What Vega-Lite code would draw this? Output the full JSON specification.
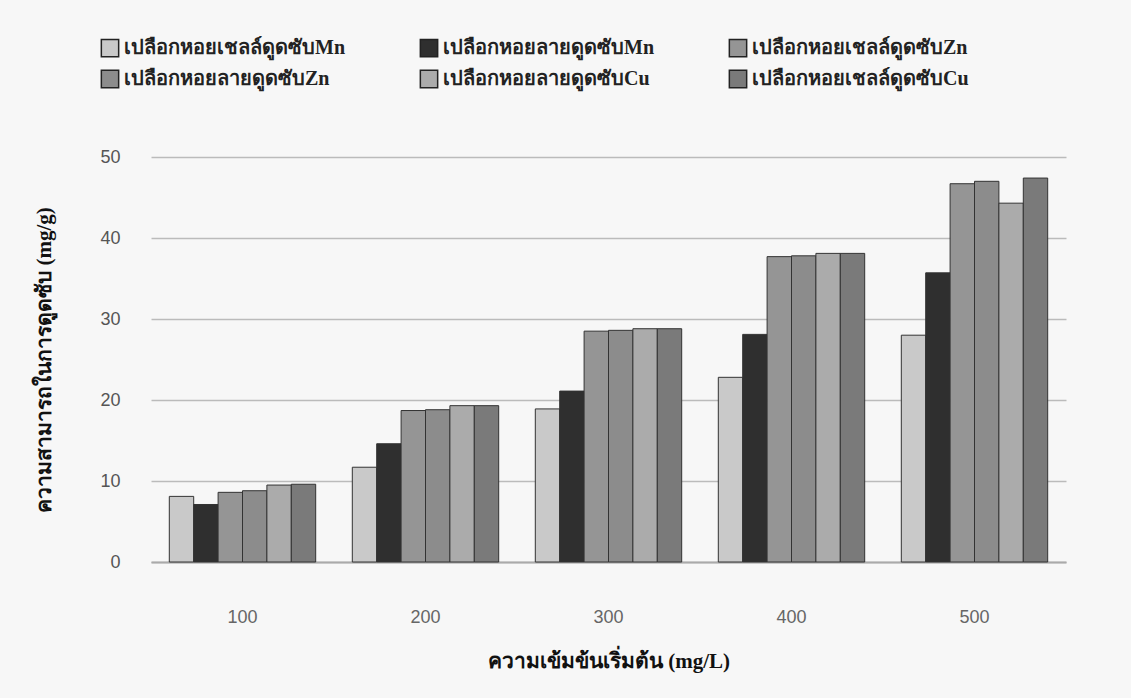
{
  "$schema": "https://vega.github.io/schema/vega-lite/v6.json",
  "autosize": {"type": "none"},
  "width": 915,
  "height": 405,
  "padding": {"left": 151, "top": 157, "right": 65, "bottom": 136},
  "background": "#f7f7f7",
  "config": {
    "view": {"stroke": null},
    "font": "Liberation Serif"
  },
  "data": {
    "values": [
      {"conc": "100", "series": "เปลือกหอยเชลล์ดูดซับMn", "value": 8.1},
      {"conc": "100", "series": "เปลือกหอยลายดูดซับMn", "value": 7.1},
      {"conc": "100", "series": "เปลือกหอยเชลล์ดูดซับZn", "value": 8.6},
      {"conc": "100", "series": "เปลือกหอยลายดูดซับZn", "value": 8.8},
      {"conc": "100", "series": "เปลือกหอยลายดูดซับCu", "value": 9.5},
      {"conc": "100", "series": "เปลือกหอยเชลล์ดูดซับCu", "value": 9.6},
      {"conc": "200", "series": "เปลือกหอยเชลล์ดูดซับMn", "value": 11.7},
      {"conc": "200", "series": "เปลือกหอยลายดูดซับMn", "value": 14.6},
      {"conc": "200", "series": "เปลือกหอยเชลล์ดูดซับZn", "value": 18.7},
      {"conc": "200", "series": "เปลือกหอยลายดูดซับZn", "value": 18.8},
      {"conc": "200", "series": "เปลือกหอยลายดูดซับCu", "value": 19.3},
      {"conc": "200", "series": "เปลือกหอยเชลล์ดูดซับCu", "value": 19.3},
      {"conc": "300", "series": "เปลือกหอยเชลล์ดูดซับMn", "value": 18.9},
      {"conc": "300", "series": "เปลือกหอยลายดูดซับMn", "value": 21.1},
      {"conc": "300", "series": "เปลือกหอยเชลล์ดูดซับZn", "value": 28.5},
      {"conc": "300", "series": "เปลือกหอยลายดูดซับZn", "value": 28.6},
      {"conc": "300", "series": "เปลือกหอยลายดูดซับCu", "value": 28.8},
      {"conc": "300", "series": "เปลือกหอยเชลล์ดูดซับCu", "value": 28.8},
      {"conc": "400", "series": "เปลือกหอยเชลล์ดูดซับMn", "value": 22.8},
      {"conc": "400", "series": "เปลือกหอยลายดูดซับMn", "value": 28.1},
      {"conc": "400", "series": "เปลือกหอยเชลล์ดูดซับZn", "value": 37.7},
      {"conc": "400", "series": "เปลือกหอยลายดูดซับZn", "value": 37.8},
      {"conc": "400", "series": "เปลือกหอยลายดูดซับCu", "value": 38.1},
      {"conc": "400", "series": "เปลือกหอยเชลล์ดูดซับCu", "value": 38.1},
      {"conc": "500", "series": "เปลือกหอยเชลล์ดูดซับMn", "value": 28.0},
      {"conc": "500", "series": "เปลือกหอยลายดูดซับMn", "value": 35.7},
      {"conc": "500", "series": "เปลือกหอยเชลล์ดูดซับZn", "value": 46.7},
      {"conc": "500", "series": "เปลือกหอยลายดูดซับZn", "value": 47.0},
      {"conc": "500", "series": "เปลือกหอยลายดูดซับCu", "value": 44.3},
      {"conc": "500", "series": "เปลือกหอยเชลล์ดูดซับCu", "value": 47.4}
    ]
  },
  "mark": {"type": "bar", "stroke": "#333333", "strokeWidth": 1},
  "encoding": {
    "x": {
      "field": "conc",
      "type": "nominal",
      "sort": null,
      "scale": {"paddingInner": 0.2, "paddingOuter": 0.1},
      "axis": {
        "title": "ความเข้มข้นเริ่มต้น (mg/L)",
        "titleFont": "Liberation Serif",
        "titleFontSize": 21,
        "titleFontWeight": "bold",
        "titleColor": "#111111",
        "titlePadding": 24,
        "labelAngle": 0,
        "labelFont": "Liberation Sans",
        "labelFontSize": 18,
        "labelColor": "#666666",
        "labelPadding": 46,
        "ticks": false,
        "domainColor": "#aaaaaa",
        "domainWidth": 2
      }
    },
    "xOffset": {
      "field": "series",
      "type": "nominal",
      "sort": ["เปลือกหอยเชลล์ดูดซับMn", "เปลือกหอยลายดูดซับMn", "เปลือกหอยเชลล์ดูดซับZn", "เปลือกหอยลายดูดซับZn", "เปลือกหอยลายดูดซับCu", "เปลือกหอยเชลล์ดูดซับCu"],
      "scale": {"paddingInner": 0, "paddingOuter": 0}
    },
    "y": {
      "field": "value",
      "type": "quantitative",
      "scale": {"domain": [0, 50]},
      "axis": {
        "title": "ความสามารถในการดูดซับ (mg/g)",
        "titleFont": "Liberation Serif",
        "titleFontSize": 21,
        "titleFontWeight": "bold",
        "titleColor": "#111111",
        "titlePadding": 45,
        "values": [0, 10, 20, 30, 40, 50],
        "labelFont": "Liberation Sans",
        "labelFontSize": 18,
        "labelColor": "#555555",
        "labelPadding": 31,
        "ticks": false,
        "domain": false,
        "gridColor": "#bbbbbb",
        "gridWidth": 1.5
      }
    },
    "color": {
      "field": "series",
      "type": "nominal",
      "sort": ["เปลือกหอยเชลล์ดูดซับMn", "เปลือกหอยลายดูดซับMn", "เปลือกหอยเชลล์ดูดซับZn", "เปลือกหอยลายดูดซับZn", "เปลือกหอยลายดูดซับCu", "เปลือกหอยเชลล์ดูดซับCu"],
      "scale": {
        "domain": ["เปลือกหอยเชลล์ดูดซับMn", "เปลือกหอยลายดูดซับMn", "เปลือกหอยเชลล์ดูดซับZn", "เปลือกหอยลายดูดซับZn", "เปลือกหอยลายดูดซับCu", "เปลือกหอยเชลล์ดูดซับCu"],
        "range": ["#c9c9c9", "#2f2f2f", "#959595", "#8c8c8c", "#ababab", "#7a7a7a"]
      },
      "legend": {
        "title": null,
        "orient": "none",
        "legendX": -51,
        "legendY": -119,
        "direction": "horizontal",
        "columns": 3,
        "columnPadding": 72,
        "rowPadding": 7,
        "symbolType": "square",
        "symbolSize": 300,
        "symbolStrokeColor": "#222222",
        "symbolStrokeWidth": 1.5,
        "labelFont": "Liberation Serif",
        "labelFontSize": 20,
        "labelFontWeight": "bold",
        "labelColor": "#222222",
        "labelLimit": 400
      }
    }
  }
}
